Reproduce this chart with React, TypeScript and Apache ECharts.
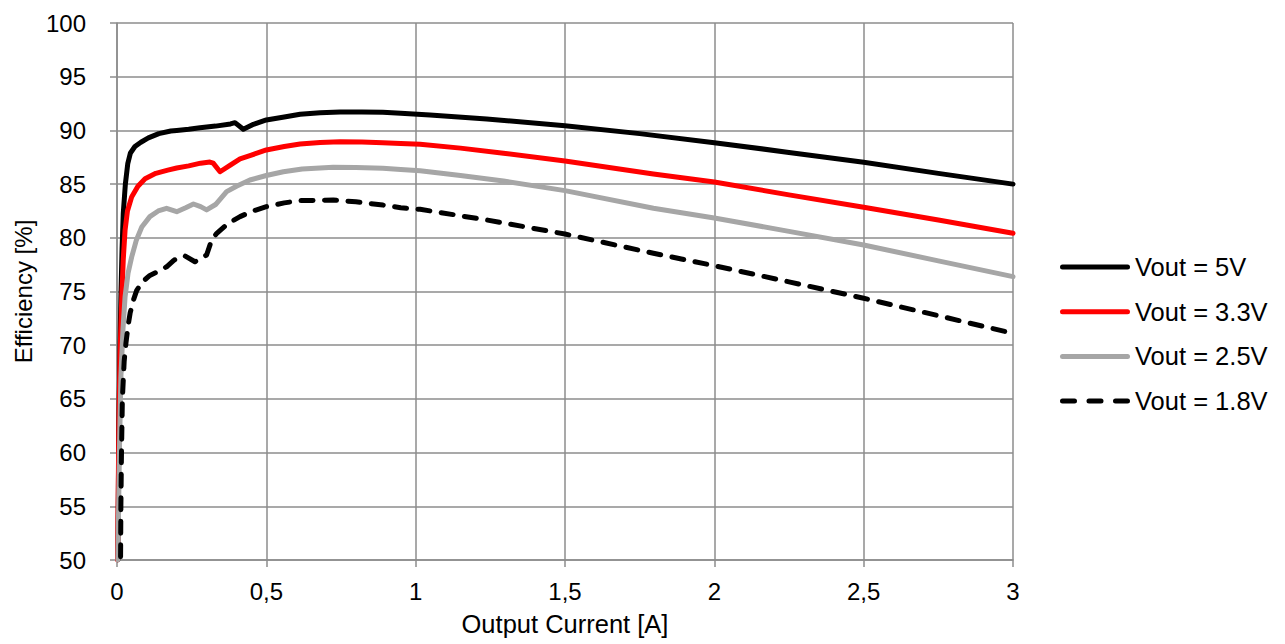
import React, { useEffect, useRef } from "react";
import * as echarts from "echarts";

const seriesNames = ["Vout = 5V", "Vout = 3.3V", "Vout = 2.5V", "Vout = 1.8V"];

const current5V = [0.003, 0.006, 0.01, 0.013, 0.017, 0.021, 0.028, 0.036, 0.045, 0.06, 0.08, 0.105, 0.14, 0.18, 0.2, 0.24, 0.278, 0.33, 0.38, 0.395, 0.423, 0.457, 0.5, 0.56, 0.613, 0.68, 0.747, 0.82, 0.89, 0.95, 1.048, 1.238, 1.5, 1.75, 2.0, 2.25, 2.5, 2.75, 3.0];
const eff5V = [50, 62, 70, 74.5, 79, 82.3, 85, 86.9, 87.9, 88.5, 88.9, 89.3, 89.7, 89.95, 90.0, 90.1, 90.25, 90.4, 90.6, 90.72, 90.1, 90.57, 90.97, 91.25, 91.5, 91.65, 91.71, 91.72, 91.68, 91.6, 91.43, 91.06, 90.44, 89.7, 88.86, 87.95, 87.03, 86.0, 85.0];

const current3V3 = [0.002, 0.006, 0.01, 0.016, 0.021, 0.027, 0.035, 0.049, 0.07, 0.094, 0.13, 0.17, 0.2, 0.24, 0.28, 0.311, 0.322, 0.345, 0.378, 0.412, 0.45, 0.5, 0.56, 0.613, 0.68, 0.747, 0.82, 0.89, 0.95, 1.015, 1.15, 1.294, 1.5, 1.796, 2.0, 2.25, 2.5, 2.75, 3.0];
const eff3V3 = [50, 62, 69, 74.5, 78, 80.7, 82.5, 83.8, 84.8, 85.5, 86.0, 86.3, 86.5, 86.7, 86.95, 87.05, 86.95, 86.15, 86.75, 87.35, 87.7, 88.18, 88.5, 88.73, 88.88, 88.95, 88.93, 88.86, 88.78, 88.7, 88.35, 87.87, 87.15, 85.94, 85.2, 84.0, 82.84, 81.65, 80.42];

const current2V5 = [0.003, 0.008, 0.013, 0.02, 0.027, 0.037, 0.049, 0.065, 0.083, 0.11, 0.138, 0.166, 0.2, 0.23, 0.256, 0.28, 0.3, 0.33, 0.367, 0.4, 0.445, 0.5, 0.557, 0.62, 0.724, 0.8, 0.89, 0.95, 1.015, 1.15, 1.294, 1.5, 1.796, 2.0, 2.25, 2.5, 2.75, 3.0];
const eff2V5 = [50, 60, 67, 71.5, 74.5, 76.7, 78.2, 79.8, 81.0, 81.97, 82.5, 82.75, 82.43, 82.8, 83.15, 82.9, 82.6, 83.1, 84.3, 84.8, 85.38, 85.8, 86.15, 86.4, 86.56, 86.55, 86.47, 86.35, 86.25, 85.8, 85.29, 84.39, 82.75, 81.85, 80.6, 79.33, 77.85, 76.38];

const current1V8 = [0.012, 0.013, 0.015, 0.018, 0.024, 0.03, 0.037, 0.044, 0.055, 0.066, 0.085, 0.11, 0.14, 0.166, 0.19, 0.211, 0.228, 0.261, 0.3, 0.317, 0.334, 0.37, 0.412, 0.45, 0.5, 0.56, 0.613, 0.724, 0.8, 0.89, 0.95, 1.015, 1.238, 1.5, 1.796, 2.0, 2.25, 2.5, 2.75, 3.0];
const eff1V8 = [50.3, 55, 60, 65, 68.5, 70.2, 71.8, 73.0, 74.2, 75.1, 75.9, 76.5, 76.9, 77.3, 77.9, 78.24, 78.3, 77.77, 78.4, 79.8, 80.42, 81.3, 81.97, 82.45, 82.9, 83.25, 83.46, 83.52, 83.35, 83.05, 82.8, 82.65, 81.66, 80.35, 78.56, 77.4, 75.9, 74.37, 72.75, 71.1];

const xTicks = { min: 0, max: 3, interval: 0.5 };
const yTicks = { min: 50, max: 100, interval: 5 };

const zip = (xs: number[], ys: number[]) => xs.map((x, i) => [x, ys[i]]);

const FONT = "'Liberation Sans', Arial, sans-serif";
const GRID = "#8c8c8c";

const SOLID_ICON = "path://M2.5,0 L67.5,0 A2.5,2.5 0 0 1 67.5,5 L2.5,5 A2.5,2.5 0 0 1 2.5,0 Z";
const DASH_ICON =
  "path://M2.5,0 L14.5,0 A2.5,2.5 0 0 1 14.5,5 L2.5,5 A2.5,2.5 0 0 1 2.5,0 Z " +
  "M29,0 L41,0 A2.5,2.5 0 0 1 41,5 L29,5 A2.5,2.5 0 0 1 29,0 Z " +
  "M55.5,0 L67.5,0 A2.5,2.5 0 0 1 67.5,5 L55.5,5 A2.5,2.5 0 0 1 55.5,0 Z";

export default function App() {
  const ref = useRef<HTMLDivElement>(null);
  useEffect(() => {
    if (!ref.current) return;
    const chart = echarts.init(ref.current, undefined, { renderer: "svg" });
    const mk = (i: number, xs: number[], ys: number[], color: string, dashed: boolean) => ({
      name: seriesNames[i],
      type: "line",
      data: zip(xs, ys),
      symbol: "none",
      smooth: false,
      clip: true,
      lineStyle: {
        color,
        width: 5,
        type: dashed ? [12, 11.5] : "solid",
        cap: "round",
        join: "round",
      },
      itemStyle: { color },
    });
    chart.setOption({
      animation: false,
      backgroundColor: "#ffffff",
      textStyle: { fontFamily: FONT },
      grid: { left: 117, right: 272, top: 23, bottom: 84, containLabel: false },
      legend: {
        orient: "vertical",
        left: 1060,
        top: 254,
        padding: 0,
        itemWidth: 70,
        itemHeight: 5,
        itemGap: 18.7,
        textStyle: { fontSize: 25.5, color: "#000", fontFamily: FONT },
        data: seriesNames.map((n, i) => ({ name: n, icon: i === 3 ? DASH_ICON : SOLID_ICON })),
      },
      xAxis: {
        type: "value",
        min: xTicks.min,
        max: xTicks.max,
        interval: xTicks.interval,
        name: "Output Current [A]",
        nameLocation: "middle",
        nameGap: 51,
        nameTextStyle: { fontSize: 25.5, color: "#000", fontFamily: FONT },
        axisLine: { show: true, lineStyle: { color: GRID, width: 1.5 } },
        axisTick: { show: true, length: 7, lineStyle: { color: GRID, width: 1.5 } },
        axisLabel: {
          fontSize: 24,
          color: "#000",
          margin: 19,
          formatter: (v: number) => String(v).replace(".", ","),
        },
        splitLine: { show: true, lineStyle: { color: GRID, width: 1.5 } },
      },
      yAxis: {
        type: "value",
        min: yTicks.min,
        max: yTicks.max,
        interval: yTicks.interval,
        name: "Efficiency [%]",
        nameLocation: "middle",
        nameGap: 82,
        nameTextStyle: { fontSize: 24, color: "#000", fontFamily: FONT },
        axisLine: { show: true, lineStyle: { color: GRID, width: 1.5 } },
        axisTick: { show: true, length: 7, lineStyle: { color: GRID, width: 1.5 } },
        axisLabel: { fontSize: 24, color: "#000", margin: 31 },
        splitLine: { show: true, lineStyle: { color: GRID, width: 1.5 } },
      },
      series: [
        mk(0, current5V, eff5V, "#000000", false),
        mk(1, current3V3, eff3V3, "#ff0000", false),
        mk(2, current2V5, eff2V5, "#a6a6a6", false),
        mk(3, current1V8, eff1V8, "#000000", true),
      ],
    });
    return () => chart.dispose();
  }, []);
  return (
    <div
      ref={ref}
      style={{ position: "fixed", left: 0, top: 0, width: 1285, height: 644, background: "#fff" }}
    />
  );
}
